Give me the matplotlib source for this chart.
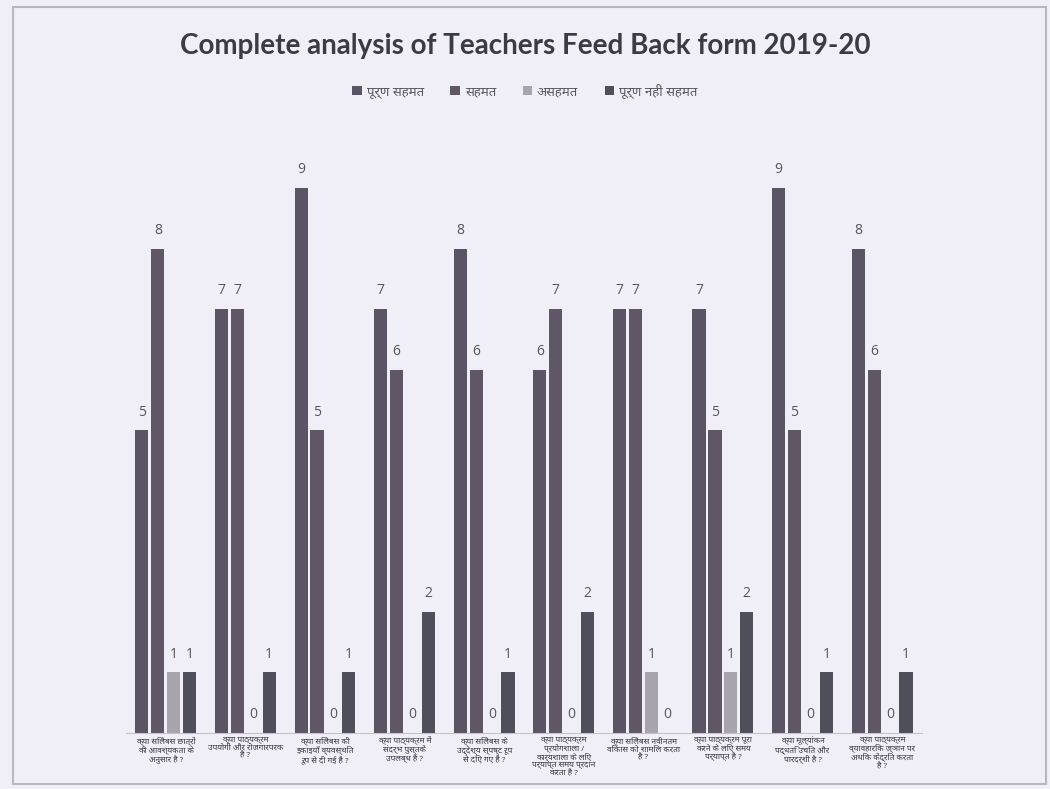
import textwrap
import numpy as np
import matplotlib
matplotlib.use('Agg')
import matplotlib.pyplot as plt
from matplotlib import font_manager
from matplotlib.patches import Rectangle

# find a font that has Devanagari glyphs
deva = None
files = font_manager.findSystemFonts()
for key in ['NotoSansDevanagari-Regular', 'NotoSansDevanagariUI-Regular', 'Mukta-Regular', 'Hind-Regular']:
    hits = [f for f in files if key in f]
    if hits:
        deva = hits[0]
        break
if deva:
    font_manager.fontManager.addfont(deva)
    deva_name = font_manager.FontProperties(fname=deva).get_name()
else:
    deva_name = 'DejaVu Sans'
plt.rcParams['font.family'] = ['Open Sans', deva_name, 'DejaVu Sans']

# data
questions = [
    'क्या सिलेबस छात्रों की आवश्यकता के अनुसार है ?',
    'क्या पाठ्यक्रम उपयोगी और रोजगारपरक है ?',
    'क्या सिलेबस की इकाइयाँ व्यवस्थित रूप से दी गई हैं ?',
    'क्या पाठ्यक्रम में संदर्भ पुस्तकें उपलब्ध हैं ?',
    'क्या सिलेबस के उद्देश्य स्पष्ट रूप से दिए गए हैं ?',
    'क्या पाठ्यक्रम प्रयोगशाला / कार्यशाला के लिए पर्याप्त समय प्रदान करता है ?',
    'क्या सिलेबस नवीनतम विकास को शामिल करता है ?',
    'क्या पाठ्यक्रम पूरा करने के लिए समय पर्याप्त है ?',
    'क्या मूल्यांकन पद्धति उचित और पारदर्शी है ?',
    'क्या पाठ्यक्रम व्यावहारिक ज्ञान पर अधिक केंद्रित करता है ?',
]
series_names = ['पूर्ण सहमत', 'सहमत', 'असहमत', 'पूर्ण नहीं सहमत']
fully_agree = [5, 7, 9, 7, 8, 6, 7, 7, 9, 8]
agree = [8, 7, 5, 6, 6, 7, 7, 5, 5, 6]
disagree = [1, 0, 0, 0, 0, 0, 1, 1, 0, 0]
fully_disagree = [1, 1, 1, 2, 1, 2, 0, 2, 1, 1]
values = [fully_agree, agree, disagree, fully_disagree]
colors = ['#5b5464', '#5f5666', '#a7a4ad', '#4f4e5b']

bg = '#f0eff7'
fig = plt.figure(figsize=(10.5, 7.89), dpi=100, facecolor=bg)
fig.patches.append(Rectangle((0.012, 0.006), 0.984, 0.985, transform=fig.transFigure,
                             fill=False, edgecolor='#b8b7bf', linewidth=1.5))

ax = fig.add_axes([0.12, 0.071, 0.758, 0.767])
ax.set_facecolor(bg)
x = np.arange(len(questions))
step = 0.2
width = 0.165
for i, (vals, c, name) in enumerate(zip(values, colors, series_names)):
    pos = x + (i - 1.5) * step
    ax.bar(pos, vals, width, color=c, label=name, edgecolor='none')
    for p, v in zip(pos, vals):
        ax.text(p, v + 0.18, str(v), ha='center', va='bottom', fontsize=10, color='#555560')

ax.set_xlim(-0.5, len(questions) - 0.5)
ax.set_ylim(0, 10)
ax.set_yticks([])
ax.set_xticks(x)
ax.set_xticklabels([textwrap.fill(q, 20) for q in questions], fontsize=6, color='#333340',
                   linespacing=1.0)
ax.tick_params(axis='x', length=0, pad=3)
for s in ['top', 'right', 'left']:
    ax.spines[s].set_visible(False)
ax.spines['bottom'].set_color('#c4c3cc')

fig.text(0.5, 0.942, 'Complete analysis of Teachers Feed Back form 2019-20',
         ha='center', va='center', fontsize=20, fontweight='bold', color='#3b3b44',
         family=['Lato', 'DejaVu Sans'])

handles, labels = ax.get_legend_handles_labels()
fig.legend(handles, labels, loc='center', bbox_to_anchor=(0.5, 0.885), ncol=4,
           frameon=False, fontsize=9.5, handlelength=0.7, handleheight=0.7,
           handletextpad=0.4, columnspacing=2.0, labelcolor='#55555f')

fig.savefig('out.png', dpi=100, facecolor=bg)
